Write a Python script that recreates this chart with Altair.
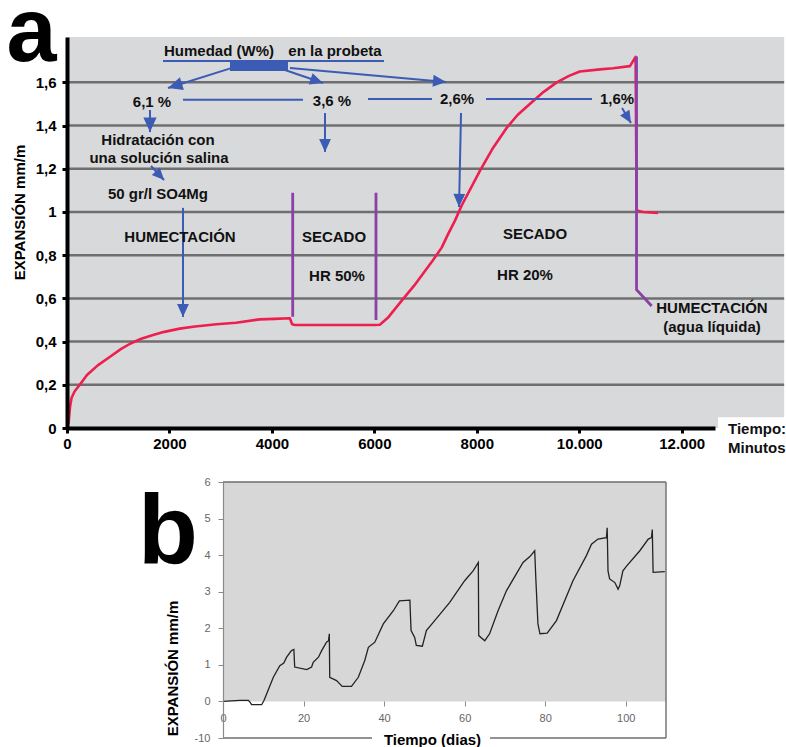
import math
import altair as alt
import pandas as pd

# ---------------- panel a : expansion (mm/m) vs time (minutes) ----------------
time_min = [30, 60, 90, 150, 250, 390, 600, 840, 1050, 1230, 1450, 1680, 1900, 2200,
            2500, 2920, 3300, 3760, 4050, 4350, 4395, 4450, 5000, 5600, 6010, 6107,
            6263, 6400, 6595, 6780, 6956, 7140, 7314, 7444, 7574, 7705, 8060, 8300,
            8585, 8800, 9035, 9300, 9560, 9800, 10010, 10405, 10660, 10990, 11100,
            11120, 11160, 11245, 11537]
expansion_a = [0.02, 0.10, 0.14, 0.17, 0.20, 0.245, 0.29, 0.33, 0.365, 0.39, 0.413,
               0.43, 0.445, 0.46, 0.47, 0.48, 0.487, 0.503, 0.505, 0.508, 0.48, 0.477,
               0.477, 0.477, 0.477, 0.478, 0.51, 0.55, 0.607, 0.66, 0.716, 0.775, 0.835,
               0.90, 0.96, 1.03, 1.19, 1.29, 1.39, 1.45, 1.50, 1.555, 1.60, 1.63, 1.65,
               1.66, 1.665, 1.675, 1.718, 1.01, 1.005, 1.0, 0.995]

grid_levels = [0.2, 0.4, 0.6, 0.8, 1.0, 1.2, 1.4, 1.6]
ticks_a_x = [0, 2000, 4000, 6000, 8000, 10000, 12000]
ticks_a_y = [0, 0.2, 0.4, 0.6, 0.8, 1.0, 1.2, 1.4, 1.6]

# annotation texts (centre positions in minutes / mm/m)
ann_text = ["Humedad (W%)", "en la probeta", "6,1 %", "3,6 %", "2,6%", "1,6%",
            "Hidratación con", "una solución salina", "50 gr/l SO4Mg", "HUMECTACIÓN",
            "SECADO", "HR 50%", "SECADO", "HR 20%", "HUMECTACIÓN", "(agua líquida)"]
ann_t = [2967, 5232, 1659, 5173, 7613, 10737, 1776, 1796, 1776, 2206,
         5212, 5271, 9136, 8941, 12591, 12591]
ann_v = [1.745, 1.745, 1.509, 1.514, 1.523, 1.523, 1.333, 1.25, 1.083, 0.884,
         0.884, 0.704, 0.898, 0.708, 0.556, 0.468]

axis_note_text = ["Tiempo:", "Minutos"]
axis_note_t = [12904, 12904]
axis_note_v = [-0.005, -0.093]

# plain blue lines (underline + connectors)
seg_t = [1874, 2264, 5876, 8180]
seg_v = [1.699, 1.519, 1.523, 1.523]
seg_t2 = [6188, 4607, 7125, 10249]
seg_v2 = [1.699, 1.519, 1.523, 1.523]

# blue arrows (tail -> tip)
arr_t = [3221, 4256, 4353, 1620, 5037, 7692, 10835, 1640, 2264]
arr_v = [1.667, 1.657, 1.667, 1.472, 1.458, 1.458, 1.481, 1.213, 1.019]
arr_t2 = [1972, 4998, 7399, 1620, 5037, 7653, 11010, 1894, 2264]
arr_v2 = [1.574, 1.597, 1.602, 1.370, 1.278, 1.023, 1.412, 1.148, 0.514]
arr_head = [700, 560, 560, 700, 560, 560, 480, 480, 560]

# blue block under the heading
block_t, block_t2 = [3182], [4314]
block_v, block_v2 = [1.653], [1.699]

# purple markers
purple_group = ["p1", "p1", "p2", "p2", "p3", "p3", "p3"]
purple_t = [4406, 4406, 6032, 6032, 11118, 11118, 11414]
purple_v = [1.089, 0.515, 1.089, 0.50, 1.72, 0.64, 0.565]

# ---------------- panel b : expansion vs time (days) ----------------
days = [0, 4.2, 6.3, 6.7, 7.1, 9.6, 10.2, 12.5, 14.1, 15.1, 15.8, 17.0, 17.6, 17.8,
        20.8, 22.0, 22.4, 23.7, 24.5, 25.7, 26.2, 26.4, 26.5, 28.2, 29.6, 31.9, 33.6,
        35.2, 36.1, 37.7, 39.8, 42.3, 43.8, 46.4, 46.7, 47.6, 48.0, 49.5, 50.5, 52.2,
        56.3, 60.0, 62.1, 63.4, 63.5, 65.0, 66.2, 68.3, 70.4, 74.5, 76.2, 77.4, 77.7,
        78.2, 78.7, 80.5, 82.8, 86.9, 90.2, 91.5, 93.1, 95.2, 95.4, 95.6, 96.0, 97.3,
        98.1, 98.5, 99.3, 100.2, 103.5, 105.6, 106.4, 106.6, 106.8, 109.7]
expansion_b = [0, 0.03, 0.03, -0.02, -0.09, -0.09, 0.03, 0.66, 0.98, 1.05, 1.21, 1.39,
               1.42, 0.94, 0.87, 0.94, 1.07, 1.21, 1.39, 1.62, 1.66, 1.85, 0.66, 0.57,
               0.41, 0.41, 0.66, 1.12, 1.48, 1.62, 2.12, 2.48, 2.75, 2.77, 1.94, 1.75,
               1.53, 1.51, 1.94, 2.16, 2.71, 3.3, 3.57, 3.8, 1.8, 1.66, 1.85, 2.48, 3.03,
               3.8, 3.96, 4.12, 3.3, 2.12, 1.85, 1.87, 2.21, 3.3, 3.98, 4.3, 4.44, 4.48,
               4.75, 3.57, 3.35, 3.25, 3.07, 3.16, 3.57, 3.7, 4.12, 4.44, 4.48, 4.7, 3.53,
               3.55]
ticks_b_x = [0, 20, 40, 60, 80, 100]
ticks_b_y = [-1, 0, 1, 2, 3, 4, 5, 6]

# frame lines of panel b (days / mm/m)
frame_t = [0, 110, 0, 66.3]
frame_v = [6, -1, -1, -1]
frame_t2 = [110, 110, 37.0, 110]
frame_v2 = [6, 6, -1, -1]

# ---------------- styling ----------------
FONT = "Liberation Sans"
BLUE = "#3b5bb5"
RED = "#ec1f4f"
PURPLE = "#8b40a8"
HEAD = "M0,0L-0.5,1.1L0.5,1.1Z"

XA = alt.Scale(domain=[0, 12650], range=[67, 715], nice=False, zero=False)
YA = alt.Scale(domain=[0, 1.81], range=[428, 37], nice=False, zero=False)
XB = alt.Scale(domain=[0, 110], range=[223, 666], nice=False, zero=False)
YB = alt.Scale(domain=[-1, 6], range=[738, 482], nice=False, zero=False)

kx = (715 - 67) / 12650.0
ky = (428 - 37) / 1.81


def ax(f, axis=None):
    return alt.X(f, type="quantitative", scale=XA, axis=axis)


def ay(f, axis=None):
    return alt.Y(f, type="quantitative", scale=YA, axis=axis)


def bx(f, axis=None):
    return alt.X(f, type="quantitative", scale=XB, axis=axis)


def by(f, axis=None):
    return alt.Y(f, type="quantitative", scale=YB, axis=axis)


axis_xa = alt.Axis(orient="bottom", offset=-319, values=ticks_a_x,
                   labelExpr="datum.value >= 10000 ? format(datum.value / 1000, 'd') + '.000' : format(datum.value, 'd')",
                   domainColor="black", domainWidth=4, tickColor="black", tickWidth=3,
                   tickSize=5, labelFont=FONT, labelFontSize=15, labelFontWeight="bold",
                   labelColor="black", labelPadding=3, grid=False, title=None, zindex=1,
                   labelFlush=False, labelOverlap=False)
axis_ya = alt.Axis(orient="left", offset=-67, values=ticks_a_y,
                   labelExpr="replace(format(datum.value, '.1~f'), '.', ',')",
                   domainColor="black", domainWidth=4, tickColor="black", tickWidth=3,
                   tickSize=5, labelFont=FONT, labelFontSize=15, labelFontWeight="bold",
                   labelColor="black", labelPadding=6, grid=False, zindex=1,
                   labelFlush=False, labelOverlap=False,
                   title="EXPANSIÓN mm/m", titleFont=FONT, titleFontSize=15,
                   titleFontWeight="bold", titleColor="black", titleX=-48, titleY=212,
                   titleAngle=270, titleAlign="center", titleBaseline="middle")

axis_xb = alt.Axis(orient="bottom", offset=-46, values=ticks_b_x, domain=False,
                   tickColor="#8a8a8a", tickSize=5, tickWidth=1, labelFont=FONT,
                   labelFontSize=11, labelColor="#666666", labelPadding=6, grid=False,
                   zindex=1, labelFlush=False,
                   title="Tiempo (dias)", titleFont=FONT, titleFontSize=15,
                   titleFontWeight="bold", titleColor="black", titleX=432, titleY=38,
                   titleAlign="center", titleBaseline="middle")
axis_yb = alt.Axis(orient="left", offset=-223, values=ticks_b_y,
                   labelExpr="datum.value == -1 ? '-10' : datum.label",
                   domainColor="#8a8a8a", domainWidth=1.2, tickColor="#8a8a8a",
                   tickSize=5, tickWidth=1, labelFont=FONT, labelFontSize=11,
                   labelColor="#666666", labelPadding=8, grid=False, zindex=1,
                   labelFlush=False,
                   title="EXPANSIÓN mm/m", titleFont=FONT, titleFontSize=15,
                   titleFontWeight="bold", titleColor="black", titleX=-51, titleY=668,
                   titleAngle=270, titleAlign="center", titleBaseline="middle")

# ---------------- panel a layers ----------------
bg_a = alt.Chart(pd.DataFrame({"t": [0], "t2": [14000], "v": [0], "v2": [1.81]})).mark_rect(
    color="#d8d9db").encode(x=ax("t", axis_xa), x2="t2", y=ay("v", axis_ya), y2="v2")

white_box = alt.Chart(pd.DataFrame({"t": [12710], "t2": [14100], "v": [-0.05], "v2": [0.05]})).mark_rect(
    color="white").encode(x=ax("t"), x2="t2", y=ay("v"), y2="v2")

grid_a = alt.Chart(pd.DataFrame({"v": grid_levels, "t": 0, "t2": 14000})).mark_rule(
    color="#6f6f6f", strokeWidth=2.5).encode(x=ax("t"), x2="t2", y=ay("v"))

df_a = pd.DataFrame({"t": time_min, "v": expansion_a, "i": range(len(time_min))})
curve_a = alt.Chart(df_a).mark_line(color=RED, strokeWidth=2.6, strokeJoin="round").encode(
    x=ax("t"), y=ay("v"), order="i:Q")

df_p = pd.DataFrame({"g": purple_group, "t": purple_t, "v": purple_v,
                     "o": range(len(purple_t))})
purple = alt.Chart(df_p).mark_line(color=PURPLE, strokeWidth=2.8).encode(
    x=ax("t"), y=ay("v"), detail="g:N", order="o:Q")

segs = alt.Chart(pd.DataFrame({"t": seg_t, "v": seg_v, "t2": seg_t2, "v2": seg_v2})).mark_rule(
    color=BLUE, strokeWidth=2).encode(x=ax("t"), x2="t2", y=ay("v"), y2="v2")

block = alt.Chart(pd.DataFrame({"t": block_t, "t2": block_t2, "v": block_v, "v2": block_v2})).mark_rect(
    color=BLUE).encode(x=ax("t"), x2="t2", y=ay("v"), y2="v2")

ang = [math.degrees(math.atan2((b - a) * kx, (d - c) * ky)) % 360
       for a, b, c, d in zip(arr_t, arr_t2, arr_v, arr_v2)]
df_arr = pd.DataFrame({"t": arr_t, "v": arr_v, "t2": arr_t2, "v2": arr_v2, "ang": ang,
                       "hs": arr_head})
shafts = alt.Chart(df_arr).mark_rule(color=BLUE, strokeWidth=2).encode(
    x=ax("t"), x2="t2", y=ay("v"), y2="v2")
heads = alt.Chart(df_arr).mark_point(shape=HEAD, filled=True, color=BLUE, opacity=1,
                                     strokeWidth=0).encode(
    x=ax("t2"), y=ay("v2"), angle=alt.Angle("ang:Q", scale=None),
    size=alt.Size("hs:Q", scale=None))

texts_a = alt.Chart(pd.DataFrame({"t": ann_t, "v": ann_v, "s": ann_text})).mark_text(
    font=FONT, fontSize=15, fontWeight="bold", color="#111111", align="center",
    baseline="middle").encode(x=ax("t"), y=ay("v"), text="s:N")

notes_a = alt.Chart(pd.DataFrame({"t": axis_note_t, "v": axis_note_v, "s": axis_note_text})).mark_text(
    font=FONT, fontSize=15, fontWeight="bold", color="#111111", align="left",
    baseline="middle").encode(x=ax("t"), y=ay("v"), text="s:N")

letter_a = alt.Chart(pd.DataFrame({"t": [-1183], "v": [1.699], "s": ["a"]})).mark_text(
    font=FONT, fontSize=90, fontWeight="bold", color="black", align="left",
    baseline="alphabetic").encode(x=ax("t"), y=ay("v"), text="s:N")

# ---------------- panel b layers ----------------
bg_b = alt.Chart(pd.DataFrame({"t": [0], "t2": [110], "v": [0], "v2": [6]})).mark_rect(
    color="#d7d7d7").encode(x=bx("t", axis_xb), x2="t2", y=by("v", axis_yb), y2="v2")

frame_b = alt.Chart(pd.DataFrame({"t": frame_t, "v": frame_v, "t2": frame_t2,
                                  "v2": frame_v2})).mark_rule(
    color="#6e6e6e", strokeWidth=1.4).encode(x=bx("t"), x2="t2", y=by("v"), y2="v2")

df_b = pd.DataFrame({"t": days, "v": expansion_b, "i": range(len(days))})
curve_b = alt.Chart(df_b).mark_line(color="#222222", strokeWidth=1.3).encode(
    x=bx("t"), y=by("v"), order="i:Q")

letter_b = alt.Chart(pd.DataFrame({"t": [-21.1], "v": [3.78], "s": ["b"]})).mark_text(
    font=FONT, fontSize=98, fontWeight="bold", color="black", align="left",
    baseline="alphabetic").encode(x=bx("t"), y=by("v"), text="s:N")

# every layer carries the same explicit scale for its panel, so independent
# resolution keeps the two panels apart while each panel stays consistent
chart = alt.layer(bg_a, white_box, grid_a, curve_a, purple, segs, block, shafts, heads,
                  texts_a, notes_a, letter_a,
                  bg_b, frame_b, curve_b, letter_b).resolve_scale(
    x="independent", y="independent").resolve_axis(
    x="independent", y="independent").properties(
    width=786, height=747, padding=0, background="white",
    autosize=alt.AutoSizeParams(type="none")).configure_view(stroke=None)

chart.save("out.html", embed_options={"renderer": "svg", "actions": False})
